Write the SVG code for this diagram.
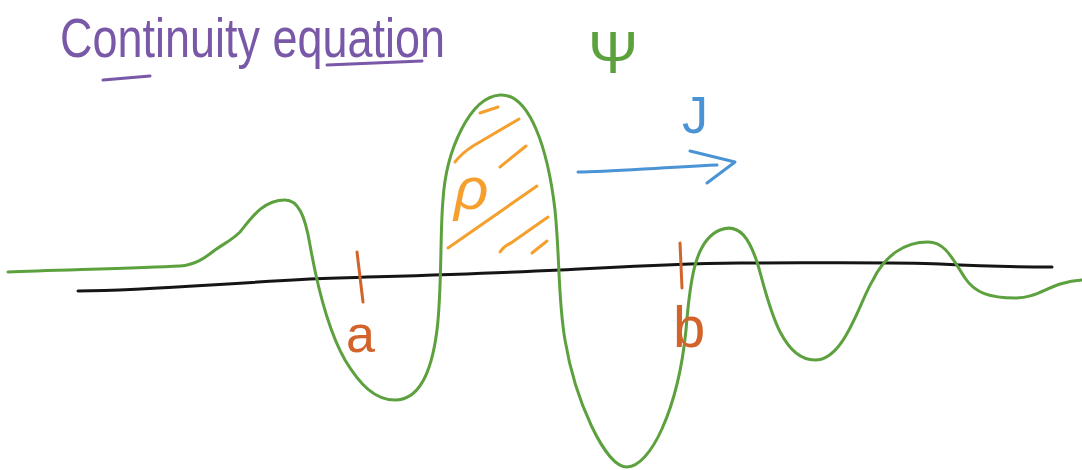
<svg xmlns="http://www.w3.org/2000/svg" width="1082" height="470" viewBox="0 0 1082 470">
  <style>
    .ink { fill: none; stroke-linecap: round; stroke-linejoin: round; }
    .green { stroke: #5DA13F; stroke-width: 3; }
    .black { stroke: #151515; stroke-width: 3; }
    .purple { stroke: #7A58A8; stroke-width: 3; }
    .orange { stroke: #F5A02E; stroke-width: 3; }
    .brown { stroke: #D2642B; stroke-width: 3; }
    .blue { stroke: #4A93D4; stroke-width: 3; }
    .hand { font-family: "Liberation Sans", "DejaVu Sans", sans-serif; }
  </style>
  <rect width="1082" height="470" fill="#ffffff"/>

  <g id="title">
    <text class="hand" x="60" y="57" font-size="56" fill="#7A58A8" textLength="385" lengthAdjust="spacingAndGlyphs">Continuity equation</text>
    <path class="ink purple" d="M103,80 L150,76"/>
    <path class="ink purple" d="M327,65 L422,61"/>
  </g>

  <g id="psi-label">
    <text class="hand" x="613" y="73" font-size="60" fill="#5DA13F" text-anchor="middle">Ψ</text>
  </g>

  <g id="axis">
    <path class="ink black" d="M78,291 C150,290 200,285 310,279 C400,276 480,274 560,270 C620,267 660,264 740,263 C820,263 900,262 940,264 C980,266 1020,267 1052,267"/>
  </g>

  <g id="hatching">
    <path class="ink orange" d="M480,113 L498,107"/>
    <path class="ink orange" d="M455,162 Q462,153 473,146 L519,119"/>
    <path class="ink orange" d="M500,167 L526,146"/>
    <path class="ink orange" d="M448,248 L537,186"/>
    <path class="ink orange" d="M500,252 Q504,246 511,243 L548,217"/>
    <path class="ink orange" d="M532,253 L547,241"/>
    <text class="hand" x="454" y="209" font-size="60" fill="#F5A02E" font-style="italic">ρ</text>
  </g>

  <g id="wavefunction">
    <path class="ink green" d="M8,272 C60,270 140,268 180,266 C195,265 205,258 215,250 C225,243 232,240 240,232 C250,220 262,200 285,200 C298,200 305,215 310,245 C318,290 328,330 345,360 C360,385 375,400 395,400 C420,400 432,370 437,330 C442,290 440,230 443,200 C446,150 470,97 500,95 C530,93 548,150 555,210 C560,260 558,300 565,340 C575,400 605,467 627,467 C650,467 678,410 686,330 C690,280 695,240 720,230 C740,222 750,240 758,265 C768,300 780,360 815,360 C845,360 860,300 873,280 C885,255 905,242 928,242 C945,242 952,258 965,278 C975,293 990,298 1015,298 C1040,298 1050,282 1082,280"/>
  </g>

  <g id="bound-a">
    <path class="ink brown" d="M357,252 L363,302"/>
    <text class="hand" x="346" y="352" font-size="52" fill="#D2642B">a</text>
  </g>

  <g id="bound-b">
    <path class="ink brown" d="M680,243 L682,288"/>
    <text class="hand" x="673" y="347" font-size="58" fill="#D2642B">b</text>
  </g>

  <g id="current">
    <path class="ink blue" d="M578,172 C610,172 650,168 717,165"/>
    <path class="ink blue" d="M690,151 L735,162 L707,183"/>
    <text class="hand" x="682" y="133" font-size="52" fill="#4A93D4">J</text>
  </g>
</svg>
